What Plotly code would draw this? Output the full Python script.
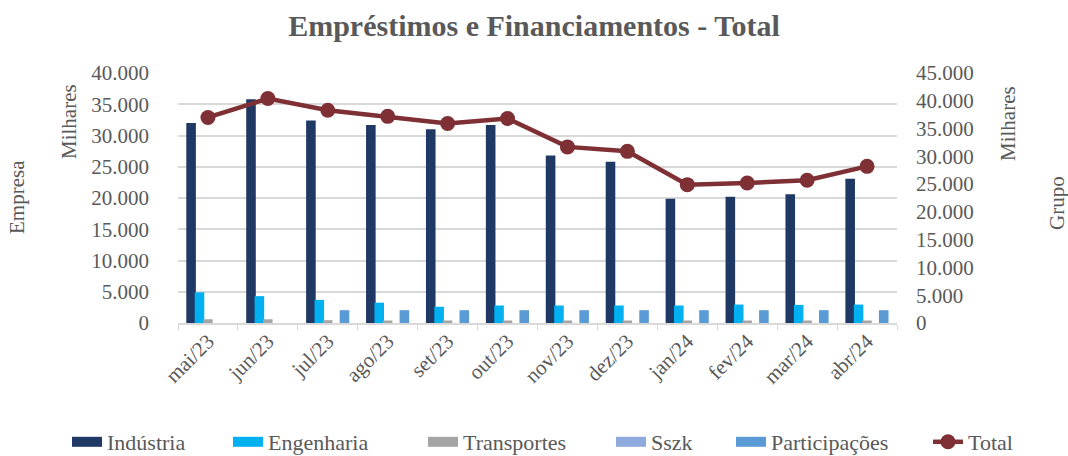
import plotly.graph_objects as go

months = ["mai/23", "jun/23", "jul/23", "ago/23", "set/23", "out/23",
          "nov/23", "dez/23", "jan/24", "fev/24", "mar/24", "abr/24"]

industria = [32000, 35800, 32400, 31700, 31000, 31700, 26800, 25800, 19900, 20200, 20600, 23100]
engenharia = [4900, 4300, 3700, 3250, 2600, 2800, 2800, 2800, 2800, 2950, 2900, 2950]
transportes = [600, 600, 450, 400, 400, 400, 400, 400, 400, 400, 400, 400]
sszk = [0, 0, 0, 0, 0, 0, 0, 0, 0, 0, 0, 0]
participacoes = [None, None, 2050, 2050, 2050, 2050, 2050, 2050, 2050, 2050, 2050, 2050]
total = [37000, 40400, 38300, 37200, 35900, 36800, 31700, 30900, 24900, 25200, 25700, 28200]

FONT = "Liberation Serif"
TXT = "#595959"
FS = 21
LFS = 22
W, H = 1068, 456

series = [
    ("Indústria", industria, "#1F3864"),
    ("Engenharia", engenharia, "#00B0F0"),
    ("Transportes", transportes, "#A5A5A5"),
    ("Sszk", sszk, "#8FAADC"),
    ("Participações", participacoes, "#5B9BD5"),
]
# legend text start (px) for each entry, incl. Total
legend_text_x = [109, 270, 465, 653, 773, 970]
legend_ids = ["legend", "legend2", "legend3", "legend4", "legend5", "legend6"]

fig = go.Figure()
bw = 0.16
step = 0.14
start = -0.5 + 8.3 / 60
for i, (name, vals, col) in enumerate(series):
    fig.add_trace(go.Bar(
        x=months, y=vals, name=name, marker=dict(color=col, line=dict(width=0)),
        width=bw, offset=start + i * step, showlegend=False, yaxis="y"))
    fig.add_trace(go.Scatter(
        x=[None], y=[None], mode="lines", name=name, legend=legend_ids[i],
        line=dict(color=col, width=11), showlegend=True, yaxis="y"))

fig.add_trace(go.Scatter(
    x=months, y=total, name="Total", mode="lines+markers", yaxis="y2",
    legend=legend_ids[5],
    line=dict(color="#7F3035", width=4.5),
    marker=dict(color="#7F3035", size=15)))

L, R, T, B = 178, 171, 73, 133
layout_legends = {}
for lid, tx in zip(legend_ids, legend_text_x):
    layout_legends[lid] = dict(
        orientation="h", x=(tx - 42) / W, xanchor="left", xref="container",
        y=1 - 442 / H, yanchor="middle", yref="container",
        font=dict(family=FONT, size=LFS, color=TXT),
        itemwidth=30, bgcolor="rgba(0,0,0,0)")

fig.update_layout(
    width=W, height=H,
    paper_bgcolor="white", plot_bgcolor="white",
    separators=",.",
    barmode="overlay",
    margin=dict(l=L, r=R, t=T, b=B, autoexpand=False),
    font=dict(family=FONT, size=FS, color=TXT),
    title=dict(text="<b>Empréstimos e Financiamentos - Total</b>",
               x=0.5, xanchor="center", y=1 - 25 / H, yanchor="middle",
               font=dict(family=FONT, size=30, color=TXT)),
    xaxis=dict(type="category", tickangle=-45, showgrid=False, automargin=False,
               showline=True, linecolor="#D9D9D9", linewidth=1.5,
               ticks="outside", tickson="boundaries", ticklen=5, tickcolor="#D9D9D9",
               ticklabelstandoff=-4,
               tickfont=dict(family=FONT, size=FS, color=TXT), range=[-0.5, 11.5]),
    yaxis=dict(range=[0, 40000], dtick=5000, tickformat=",d", automargin=False,
               showgrid=True, gridcolor="#D9D9D9", gridwidth=1.5, zeroline=False,
               showline=False, ticks="", ticklabelstandoff=28,
               tickfont=dict(family=FONT, size=FS, color=TXT)),
    yaxis2=dict(range=[0, 45000], dtick=5000, tickformat=",d", overlaying="y",
                side="right", showgrid=False, zeroline=False, showline=False,
                ticks="", ticklabelstandoff=18, automargin=False,
                tickfont=dict(family=FONT, size=FS, color=TXT)),
    **layout_legends,
)

pw = W - L - R
ph = H - T - B
annos = [
    ("Milhares", 69, 122),
    ("Empresa", 17, 197),
    ("Milhares", 1008, 123),
    ("Grupo", 1057, 203),
]
for text, x, y in annos:
    fig.add_annotation(text=text, x=(x - L) / pw, y=(H - B - y) / ph,
                       xref="paper", yref="paper",
                       showarrow=False, textangle=-90, xanchor="center", yanchor="middle",
                       font=dict(family=FONT, size=FS, color=TXT))

fig.write_html("out.html", config={"displayModeBar": False},
               post_script="document.body.style.margin='0';document.body.style.padding='0';")
